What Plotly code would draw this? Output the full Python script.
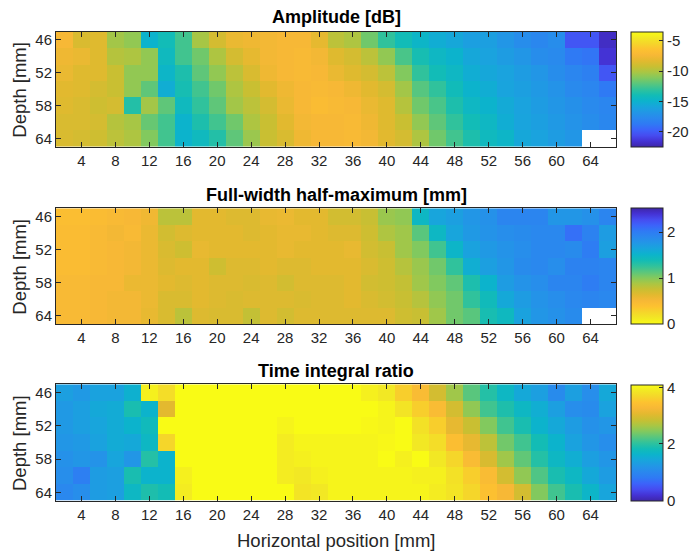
import plotly.graph_objects as go

# Measurement grid (cell centres, mm)
x_mm = [2, 4, 6, 8, 10, 12, 14, 16, 18, 20, 22, 24, 26, 28, 30, 32, 34,
        36, 38, 40, 42, 44, 46, 48, 50, 52, 54, 56, 58, 60, 62, 64, 66]
depth_mm = [46, 49, 52, 55, 58, 61, 64]
x_ticks = [4, 8, 12, 16, 20, 24, 28, 32, 36, 40, 44, 48, 52, 56, 60, 64]
depth_ticks = [46, 52, 58, 64]

# Peak amplitude [dB], one row per depth
amplitude_db = [
    [-7.3, -8.6, -8.4, -10.3, -10.7, -14.9, -14.0, -12.6, -10.2, -8.8, -7.9, -7.7, -7.5, -7.3, -7.3, -8.1, -9.6,
     -10.0, -11.5, -13.0, -14.0, -14.7, -15.3, -15.7, -16.2, -16.2, -16.8, -17.4, -17.8, -17.4, -20.2, -20.2, -21.9],
    [-7.7, -7.9, -8.4, -9.8, -10.0, -10.7, -14.3, -12.6, -11.5, -10.0, -8.8, -8.1, -7.5, -7.3, -7.1, -7.5, -8.4,
     -8.8, -9.6, -10.7, -12.4, -13.8, -14.5, -14.9, -15.7, -16.0, -16.4, -16.8, -17.4, -17.6, -18.7, -18.9, -21.5],
    [-7.9, -8.4, -8.4, -9.2, -10.7, -10.7, -14.7, -13.6, -11.9, -10.7, -9.6, -8.6, -7.7, -7.3, -7.1, -7.3, -7.9,
     -8.4, -8.8, -9.6, -11.1, -13.0, -14.0, -14.5, -15.3, -15.7, -16.0, -16.4, -16.8, -17.4, -17.9, -18.3, -20.2],
    [-8.3, -8.4, -8.8, -9.2, -10.7, -11.9, -15.3, -13.8, -12.6, -11.5, -10.0, -9.2, -8.3, -7.7, -7.3, -7.1, -7.3,
     -7.7, -8.3, -8.8, -10.3, -12.1, -13.0, -14.1, -14.9, -15.3, -15.9, -16.2, -16.6, -17.0, -17.6, -17.9, -18.7],
    [-8.4, -8.6, -9.0, -8.8, -13.4, -10.3, -11.9, -14.3, -13.0, -11.9, -10.3, -9.6, -8.8, -7.9, -7.3, -6.9, -7.1,
     -7.3, -7.9, -8.4, -9.8, -11.5, -12.4, -13.6, -14.5, -14.9, -15.5, -16.0, -16.4, -16.8, -17.2, -17.6, -17.9],
    [-8.6, -8.6, -8.8, -9.8, -10.2, -11.7, -12.6, -14.9, -13.6, -12.6, -11.5, -10.0, -9.2, -8.3, -7.5, -7.3, -7.3,
     -7.1, -7.7, -8.4, -9.2, -10.7, -11.9, -13.0, -14.0, -14.5, -15.3, -15.9, -16.2, -16.6, -17.0, -17.4, -17.8],
    [-8.6, -8.8, -9.0, -9.6, -10.0, -11.1, -12.6, -14.9, -14.3, -13.4, -11.9, -10.5, -9.2, -8.6, -7.7, -7.3, -7.3,
     -7.1, -7.5, -8.3, -8.8, -10.0, -11.5, -12.6, -13.6, -14.3, -14.7, -15.7, -16.0, -16.4, -16.8, None, None],
]

# Full-width half-maximum [mm]
fwhm_mm = [
    [0.43, 0.43, 0.45, 0.48, 0.50, 0.55, 0.81, 0.81, 0.63, 0.63, 0.66, 0.66, 0.60, 0.58, 0.63, 0.63, 0.71,
     0.71, 0.76, 0.93, 0.96, 1.46, 1.64, 1.69, 1.76, 1.81, 1.92, 1.92, 1.92, 1.76, 1.76, 1.81, 1.92],
    [0.45, 0.45, 0.48, 0.53, 0.48, 0.58, 0.71, 0.66, 0.63, 0.63, 0.63, 0.66, 0.63, 0.60, 0.60, 0.63, 0.66,
     0.66, 0.73, 0.86, 0.91, 1.13, 1.46, 1.64, 1.74, 1.79, 1.84, 1.86, 1.89, 1.89, 2.07, 1.94, 1.71],
    [0.45, 0.45, 0.48, 0.50, 0.53, 0.58, 0.68, 0.73, 0.60, 0.63, 0.63, 0.63, 0.63, 0.60, 0.63, 0.63, 0.63,
     0.60, 0.71, 0.76, 0.91, 1.01, 1.21, 1.49, 1.66, 1.74, 1.79, 1.84, 1.89, 1.89, 1.86, 1.99, 1.69],
    [0.45, 0.45, 0.48, 0.50, 0.53, 0.58, 0.66, 0.63, 0.63, 0.73, 0.66, 0.66, 0.63, 0.66, 0.66, 0.63, 0.63,
     0.63, 0.68, 0.73, 0.83, 0.93, 1.06, 1.26, 1.56, 1.69, 1.76, 1.86, 1.89, 1.84, 1.94, 1.94, 1.92],
    [0.48, 0.48, 0.50, 0.50, 0.58, 0.58, 0.63, 0.66, 0.63, 0.66, 0.66, 0.68, 0.66, 0.71, 0.66, 0.66, 0.66,
     0.63, 0.71, 0.73, 0.78, 0.91, 1.01, 1.11, 1.34, 1.51, 1.71, 1.79, 1.84, 1.92, 1.92, 1.99, 1.92],
    [0.48, 0.48, 0.50, 0.53, 0.53, 0.58, 0.68, 0.68, 0.63, 0.66, 0.68, 0.66, 0.66, 0.66, 0.68, 0.66, 0.66,
     0.63, 0.68, 0.71, 0.76, 0.83, 0.96, 1.06, 1.26, 1.41, 1.61, 1.71, 1.79, 1.84, 1.89, 1.92, 1.89],
    [0.48, 0.48, 0.50, 0.53, 0.53, 0.60, 0.68, 0.81, 0.66, 0.68, 0.68, 0.78, 0.66, 0.71, 0.66, 0.66, 0.66,
     0.66, 0.66, 0.66, 0.73, 0.76, 0.91, 1.06, 1.13, 1.36, 1.44, 1.66, 1.76, 1.81, 1.86, None, None],
]

# Time integral ratio
time_ratio = [
    [1.35, 1.27, 1.39, 1.39, 1.60, 3.98, 3.77, 4.10, 4.10, 4.10, 4.10, 4.10, 4.10, 4.10, 4.10, 4.10, 4.10,
     4.10, 3.98, 3.90, 3.61, 3.36, 2.95, 2.62, 2.26, 1.97, 1.72, 1.48, 1.35, 1.07, 1.35, 1.11, 1.48],
    [1.27, 1.35, 1.48, 1.52, 1.89, 1.64, 3.08, 4.10, 4.10, 4.10, 4.10, 4.10, 4.10, 4.10, 4.10, 4.10, 4.10,
     4.10, 4.10, 4.02, 3.85, 3.61, 3.36, 2.95, 2.54, 2.13, 1.93, 1.72, 1.56, 1.35, 1.11, 1.07, 1.39],
    [1.27, 1.35, 1.44, 1.52, 1.64, 1.80, 4.10, 4.10, 4.10, 4.10, 4.10, 4.10, 4.10, 4.02, 4.10, 4.10, 4.10,
     4.10, 4.06, 4.02, 4.10, 3.81, 3.61, 3.12, 2.87, 2.46, 2.13, 1.89, 1.64, 1.48, 1.31, 1.15, 1.23],
    [1.23, 1.27, 1.39, 1.52, 1.48, 1.72, 3.69, 4.10, 4.10, 4.10, 4.10, 4.10, 4.10, 3.94, 4.02, 4.02, 4.02,
     4.02, 4.02, 4.06, 4.10, 3.90, 3.77, 3.40, 3.12, 2.79, 2.38, 2.13, 1.85, 1.64, 1.39, 1.23, 1.11],
    [1.15, 1.23, 1.19, 1.44, 1.23, 1.97, 1.64, 4.10, 4.10, 4.10, 4.10, 4.10, 4.10, 3.94, 3.98, 4.02, 4.02,
     4.02, 4.02, 4.10, 3.98, 4.10, 3.90, 3.69, 3.36, 2.99, 2.62, 2.30, 1.97, 1.72, 1.56, 1.35, 1.23],
    [1.11, 0.90, 1.31, 1.35, 1.89, 1.64, 1.64, 3.98, 4.10, 4.10, 4.10, 4.10, 4.10, 3.94, 3.90, 3.98, 4.02,
     4.02, 4.02, 4.02, 4.02, 3.98, 3.98, 3.81, 3.61, 3.36, 2.95, 2.54, 2.21, 1.89, 1.72, 1.48, 1.31],
    [1.03, 1.11, 1.31, 1.35, 1.72, 1.93, 1.85, 3.94, 4.10, 4.10, 4.10, 4.10, 4.10, 4.10, 3.85, 3.90, 4.02,
     4.02, 4.02, 4.02, 4.02, 4.02, 3.94, 3.85, 3.69, 3.44, 3.28, 2.95, 2.46, 2.13, 1.89, 1.68, 1.44],
]

for grid in (amplitude_db, fwhm_mm, time_ratio):
    assert len(grid) == len(depth_mm)
    assert all(len(row) == len(x_mm) for row in grid)

# Parula-style colour map
PARULA = [
    [0.00, "#3e26a8"], [0.05, "#4432d4"], [0.10, "#464cf0"], [0.15, "#3c63fa"],
    [0.20, "#2f7af4"], [0.25, "#2a88ee"], [0.30, "#2296e6"], [0.35, "#18a5dc"],
    [0.40, "#0cb3cc"], [0.45, "#12bcb6"], [0.50, "#30c29c"], [0.55, "#58c67e"],
    [0.60, "#82c95e"], [0.65, "#a9c644"], [0.70, "#c9bf32"], [0.75, "#e3b92f"],
    [0.80, "#f7b836"], [0.85, "#fdc230"], [0.90, "#f5d62a"], [0.95, "#f2e824"],
    [1.00, "#f9fb15"],
]

FONT = "Liberation Sans, Arial, Helvetica, sans-serif"
INK = "#262626"
TICK_SIZE = 15
LABEL_SIZE = 18.5
TITLE_SIZE = 18

panels = [
    dict(z=amplitude_db, title="Amplitude [dB]", zmin=-22.5, zmax=-3.5, reverse=False,
         cb_vals=[-20, -15, -10, -5], cb_text=["-20", "-15", "-10", "-5"],
         domain=[0.7538, 0.9985], title_y=1.0298),
    dict(z=fwhm_mm, title="Full-width half-maximum [mm]", zmin=0, zmax=2.52, reverse=True,
         cb_vals=[0, 1, 2], cb_text=["0", "1", "2"],
         domain=[0.3766, 0.6228], title_y=0.6517),
    dict(z=time_ratio, title="Time integral ratio", zmin=0, zmax=4.1, reverse=False,
         cb_vals=[0, 2, 4], cb_text=["0", "2", "4"],
         domain=[0.0006, 0.2483], title_y=0.2757),
]

fig = go.Figure()
annotations = []
layout_axes = {}

for i, p in enumerate(panels, start=1):
    sfx = "" if i == 1 else str(i)
    d0, d1 = p["domain"]
    fig.add_trace(go.Heatmap(
        x=x_mm, y=depth_mm, z=p["z"],
        xaxis="x" + sfx, yaxis="y" + sfx,
        colorscale=PARULA, reversescale=p["reverse"],
        zmin=p["zmin"], zmax=p["zmax"], zsmooth=False,
        hoverongaps=False,
        colorbar=dict(
            x=1.0268, xanchor="left", y=(d0 + d1) / 2, yanchor="middle",
            len=d1 - d0, lenmode="fraction", thickness=32, thicknessmode="pixels",
            xpad=0, ypad=0, outlinecolor=INK, outlinewidth=1,
            tickvals=p["cb_vals"], ticktext=p["cb_text"],
            ticks="inside", ticklen=4, tickcolor=INK,
            tickfont=dict(family=FONT, size=TICK_SIZE, color=INK),
        ),
    ))
    axis_common = dict(
        showline=True, linecolor=INK, linewidth=1, mirror="ticks",
        ticks="inside", ticklen=5, tickcolor=INK, tickwidth=1,
        showgrid=False, zeroline=False, layer="above traces",
        tickfont=dict(family=FONT, size=TICK_SIZE, color=INK),
    )
    layout_axes["xaxis" + sfx] = dict(
        domain=[0, 1], anchor="y" + sfx, range=[1, 67],
        tickmode="array", tickvals=x_ticks, **axis_common)
    layout_axes["yaxis" + sfx] = dict(
        domain=[d0, d1], anchor="x" + sfx, range=[65.5, 44.5],
        tickmode="array", tickvals=depth_ticks, **axis_common)

    annotations.append(dict(
        text="<b>" + p["title"] + "</b>", xref="paper", yref="paper",
        x=0.5, y=p["title_y"], xanchor="center", yanchor="middle", showarrow=False,
        font=dict(family=FONT, size=TITLE_SIZE, color="#000000")))
    annotations.append(dict(
        text="Depth [mm]", xref="paper", yref="paper", textangle=-90,
        x=-0.0652, y=(d0 + d1) / 2, xanchor="center", yanchor="middle", showarrow=False,
        font=dict(family=FONT, size=LABEL_SIZE, color=INK)))

annotations.append(dict(
    text="Horizontal position [mm]", xref="paper", yref="paper",
    x=0.5, y=-0.0834, xanchor="center", yanchor="middle", showarrow=False,
    font=dict(family=FONT, size=LABEL_SIZE, color=INK)))

fig.update_layout(
    width=692, height=553,
    margin=dict(l=56, r=76, t=31, b=52, autoexpand=False),
    paper_bgcolor="white", plot_bgcolor="white",
    font=dict(family=FONT, size=TICK_SIZE, color=INK),
    annotations=annotations,
    showlegend=False,
    **layout_axes,
)

fig.write_html("out.html")
